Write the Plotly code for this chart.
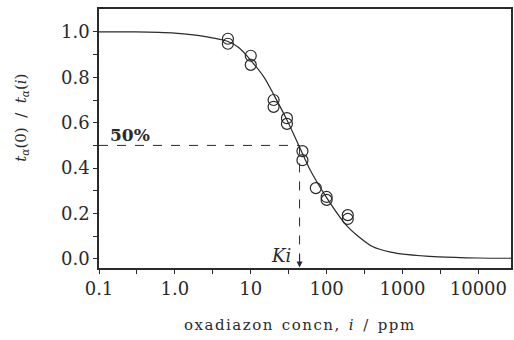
import math
import plotly.graph_objects as go

# measured points (ppm, ratio)
conc = [5, 5, 10, 10, 20, 20, 30, 30, 48, 48, 72, 100, 100, 190, 190]
ratio = [0.970, 0.948, 0.895, 0.855, 0.700, 0.670, 0.620, 0.595, 0.475, 0.435, 0.312, 0.273, 0.260, 0.193, 0.176]

# fitted curve
curve_x = [0.1, 0.3, 1, 2, 3, 5, 7, 10, 15, 20, 30, 43, 60, 100, 180, 260, 400, 700, 1100, 3000, 10000, 30000]
curve_y = [1.0, 1.0, 0.995, 0.985, 0.975, 0.958, 0.93, 0.875, 0.80, 0.725, 0.612, 0.50, 0.395, 0.27, 0.15, 0.10, 0.055, 0.03, 0.02, 0.009, 0.004, 0.003]

Ki = 44
half = 0.5

xtick_vals = [0.1, 0.316, 1, 3.16, 10, 31.6, 100, 316, 1000, 3162, 10000]
xtick_text = ["0.1", "", "1.0", "", "10", "", "100", "", "1000", "", "10000"]
ytick_vals = [0.0, 0.1, 0.2, 0.3, 0.4, 0.5, 0.6, 0.7, 0.8, 0.9, 1.0]
ytick_text = ["0.0", "", "0.2", "", "0.4", "", "0.6", "", "0.8", "", "1.0"]

xlabel_words = ["oxadiazon", "concn,", "<i>i</i>", "/", "ppm"]

ink = "#2a2a2a"
serif = "DejaVu Serif, Liberation Serif, serif"
hair = "\u200a"


def spaced(word):
    if word.startswith("<"):
        return word
    return hair.join(word)


xlabel = "  ".join(spaced(w) for w in xlabel_words)

fig = go.Figure()
fig.add_trace(go.Scatter(x=curve_x, y=curve_y, mode="lines", line=dict(color=ink, width=1.2, shape="spline", smoothing=0.8), hoverinfo="skip"))
fig.add_trace(go.Scatter(x=[curve_x[0], Ki], y=[half, half], mode="lines", line=dict(color=ink, width=1, dash="dash")))
fig.add_trace(go.Scatter(x=[Ki, Ki], y=[half, -0.025], mode="lines", line=dict(color=ink, width=1, dash="dash")))
fig.add_trace(go.Scatter(x=conc, y=ratio, mode="markers",
                         marker=dict(symbol="circle-open", size=11, color=ink, line=dict(width=1.2, color=ink))))

fig.add_annotation(x=math.log10(Ki), y=-0.038, ax=0, ay=-14, showarrow=True, arrowhead=2, arrowsize=1.2,
                   arrowwidth=1, arrowcolor=ink, text="", standoff=0)
fig.add_annotation(x=math.log10(Ki), y=-0.035, xshift=-7, yshift=-1, xanchor="right", yanchor="bottom", showarrow=False,
                   text="<i>Ki</i>", font=dict(family=serif, size=18, color=ink))
fig.add_annotation(x=math.log10(0.1), y=half, xshift=9, xanchor="left", yanchor="bottom", yshift=-2, showarrow=False,
                   text="<b>50%</b>", font=dict(family=serif, size=17, color=ink))
fig.add_annotation(xref="paper", yref="paper", x=-0.215, y=0.58, textangle=-90, showarrow=False,
                   text="<i>t</i><sub><i>α</i></sub>(0)  /  <i>t</i><sub><i>α</i></sub>(<i>i</i>)",
                   font=dict(family=serif, size=15, color=ink))
fig.add_annotation(xref="paper", yref="paper", x=0.485, y=-0.22, yanchor="middle", showarrow=False,
                   text=xlabel, font=dict(family=serif, size=15, color=ink))

fig.update_layout(
    width=514, height=340, margin=dict(l=99, r=1, t=9, b=72),
    paper_bgcolor="white", plot_bgcolor="white", showlegend=False,
    xaxis=dict(type="log", range=[-1, 4.43], tickvals=xtick_vals, ticktext=xtick_text,
               ticks="outside", ticklen=4, tickwidth=1, tickcolor=ink,
               showline=True, linecolor=ink, linewidth=1.5, mirror=True, showgrid=False, zeroline=False,
               tickfont=dict(family=serif, size=18, color=ink)),
    yaxis=dict(range=[-0.04, 1.101], tickvals=ytick_vals, ticktext=ytick_text,
               ticks="outside", ticklen=4, tickwidth=1, tickcolor=ink,
               showline=True, linecolor=ink, linewidth=1.5, mirror=True, showgrid=False, zeroline=False,
               tickfont=dict(family=serif, size=18, color=ink)),
)

fig.write_html("out.html")
